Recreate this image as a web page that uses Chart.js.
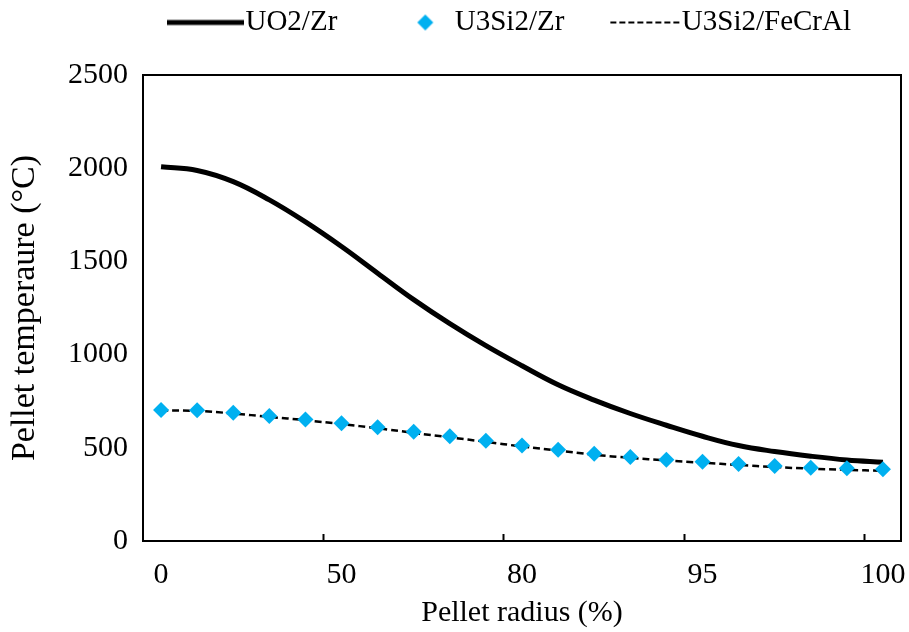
<!DOCTYPE html>
<html lang="en">
<head>
  <meta charset="UTF-8">
  <title>Pellet temperature</title>
  <style>
    body { margin: 0; background: #fff; }
    #chart { display: block; }
  </style>
</head>
<body>
  <canvas id="chart" width="909" height="632"></canvas>
  <script src="https://cdn.jsdelivr.net/npm/chart.js"></script>
  <script>
    // pellet radius (%) at each node; only every 5th is labelled on the axis
    const radius = [0, 10, 20, 30, 40, 50, 56, 62, 68, 74, 80, 83, 86, 89, 92, 95, 96, 97, 98, 99, 100];
    const uo2Zr = [2008, 1988, 1928, 1830, 1712, 1580, 1437, 1295, 1166, 1048, 940, 838, 756, 684, 621, 562, 512, 480, 455, 435, 423];
    const u3si2Zr = [703, 702, 688, 670, 652, 632, 610, 586, 562, 538, 512, 490, 468, 450, 436, 425, 413, 403, 393, 390, 385];
    const u3si2FeCrAl = [700, 698, 684, 666, 648, 627, 605, 580, 556, 532, 507, 485, 463, 446, 432, 420, 408, 397, 388, 382, 376];
    const yTicks = [0, 500, 1000, 1500, 2000, 2500];

    const BLUE = '#00b0f0';
    const FONT = 'Liberation Serif, Times New Roman, serif';
    const BOX = 97;         // legend box width, sets the gap between items
    const MW = BOX + 26;    // marker image is wider so it ends right at the text

    // legend markers drawn as small images so they can sit right next to the text
    function marker(kind) {
      const c = document.createElement('canvas');
      c.width = MW; c.height = 20;
      const g = c.getContext('2d');
      if (kind === 'solid') {
        g.strokeStyle = '#000'; g.lineWidth = 5;
        g.beginPath(); g.moveTo(MW - 77, 10); g.lineTo(MW, 10); g.stroke();
      } else if (kind === 'dash') {
        g.strokeStyle = '#000'; g.lineWidth = 2; g.setLineDash([6, 3]);
        g.beginPath(); g.moveTo(MW - 70, 10); g.lineTo(MW, 10); g.stroke();
      } else {
        const cx = MW - 28;
        g.fillStyle = BLUE;
        g.beginPath(); g.moveTo(cx, 2); g.lineTo(cx + 8, 10); g.lineTo(cx, 18); g.lineTo(cx - 8, 10); g.closePath(); g.fill();
      }
      return c;
    }
    const markers = [marker('solid'), marker('diamond'), marker('dash')];

    const frame = {
      id: 'frame',
      afterInit(chart) {
        // reserve room under the legend row so the plot starts where the original does
        const lg = chart.legend;
        const fit = lg.fit;
        lg.fit = function () { fit.call(this); this.height = 73; };
      },
      afterLayout(chart) {
        chart.legend.left += 39;
        chart.legend.right += 39;
      },
      beforeDatasetsDraw(chart) {
        const a = chart.chartArea, ctx = chart.ctx;
        ctx.save();
        ctx.strokeStyle = '#000';
        ctx.lineWidth = 2;
        ctx.strokeRect(a.left, a.top, a.right - a.left, a.bottom - a.top);
        ctx.restore();
      }
    };

    Chart.defaults.font.family = FONT;
    Chart.defaults.color = '#000';

    new Chart(document.getElementById('chart'), {
      type: 'line',
      data: {
        labels: radius,
        datasets: [{
          label: 'UO2/Zr',
          data: uo2Zr,
          borderColor: '#000',
          borderWidth: 5,
          pointRadius: 0,
          tension: 0.4,
          order: 2
        }, {
          label: 'U3Si2/Zr',
          data: u3si2Zr,
          showLine: false,
          pointStyle: 'rectRot',
          pointRadius: 8,
          pointBackgroundColor: BLUE,
          pointBorderWidth: 0,
          backgroundColor: BLUE,
          borderColor: BLUE,
          order: 0
        }, {
          label: 'U3Si2/FeCrAl',
          data: u3si2FeCrAl,
          borderColor: '#000',
          borderWidth: 2.5,
          borderDash: [7, 4],
          pointRadius: 0,
          tension: 0.4,
          order: 1
        }]
      },
      options: {
        responsive: false,
        animation: false,
        layout: { padding: { left: 0, right: 2, top: 2, bottom: 0 } },
        plugins: {
          tooltip: { enabled: false },
          legend: {
            position: 'top',
            labels: {
              usePointStyle: true,
              pointStyleWidth: BOX,
              boxHeight: 20,
              padding: 6,
              font: { size: 29 },
              generateLabels(chart) {
                const items = Chart.defaults.plugins.legend.labels.generateLabels(chart);
                items.sort((a, b) => a.datasetIndex - b.datasetIndex);
                items.forEach((it) => { it.pointStyle = markers[it.datasetIndex]; it.lineWidth = 0; });
                return items;
              }
            }
          }
        },
        scales: {
          x: {
            offset: true,
            grid: {
              offset: true,
              drawOnChartArea: false,
              tickLength: -7,
              tickWidth: 2,
              tickColor: (c) => (c.index % 5 === 0 && c.index > 0 && c.index < radius.length) ? '#000' : 'rgba(0,0,0,0)'
            },
            border: { display: false },
            ticks: {
              autoSkip: false,
              maxRotation: 0,
              padding: 23,
              font: { size: 30 },
              callback: (v, i) => (i % 5 === 0 ? String(radius[i]) : '')
            },
            title: { display: true, text: 'Pellet radius (%)', font: { size: 30 }, padding: { top: 2, bottom: 1 } },
            afterFit(s) { s.height = 91; s.paddingLeft = 0; s.paddingRight = 0; }
          },
          y: {
            min: yTicks[0],
            max: yTicks[yTicks.length - 1],
            grid: { display: false },
            border: { display: false },
            ticks: {
              stepSize: 500,
              padding: 7,
              font: { size: 30 },
              callback: (v) => (yTicks.includes(v) ? v : '')
            },
            title: { display: true, text: 'Pellet temperaure (°C)', font: { size: 34 }, padding: { top: 5, bottom: 0 } },
            afterFit(s) { s.width = 143; }
          }
        }
      },
      plugins: [frame]
    });
  </script>
</body>
</html>
